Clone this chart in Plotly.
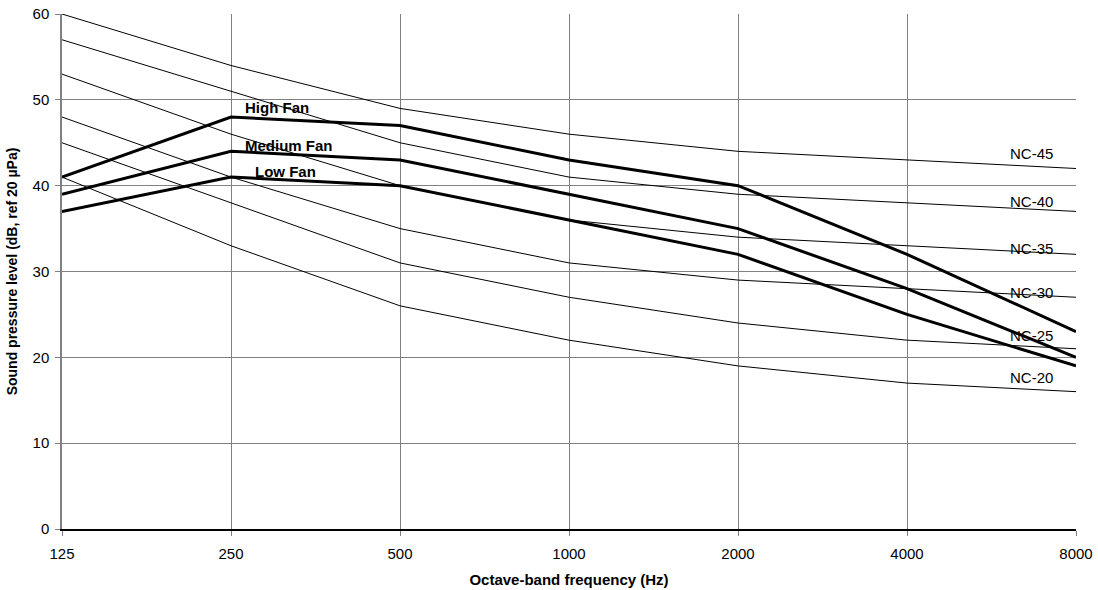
import plotly.graph_objects as go

frequencies = ["125", "250", "500", "1000", "2000", "4000", "8000"]

nc_names = ["NC-45", "NC-40", "NC-35", "NC-30", "NC-25", "NC-20"]
nc45 = [60, 54, 49, 46, 44, 43, 42]
nc40 = [57, 51, 45, 41, 39, 38, 37]
nc35 = [53, 46, 40, 36, 34, 33, 32]
nc30 = [48, 41, 35, 31, 29, 28, 27]
nc25 = [45, 38, 31, 27, 24, 22, 21]
nc20 = [41, 33, 26, 22, 19, 17, 16]
nc_curves = [nc45, nc40, nc35, nc30, nc25, nc20]

fan_names = ["High Fan", "Medium Fan", "Low Fan"]
high_fan = [41, 48, 47, 43, 40, 32, 23]
medium_fan = [39, 44, 43, 39, 35, 28, 20]
low_fan = [37, 41, 40, 36, 32, 25, 19]
fan_curves = [high_fan, medium_fan, low_fan]

xi = list(range(len(frequencies)))

fig = go.Figure()
for name, vals in zip(nc_names, nc_curves):
    fig.add_trace(go.Scatter(x=xi, y=vals, mode="lines", name=name,
                             line=dict(color="black", width=1), showlegend=False))
for name, vals in zip(fan_names, fan_curves):
    fig.add_trace(go.Scatter(x=xi, y=vals, mode="lines", name=name,
                             line=dict(color="black", width=3), showlegend=False))

font_family = "Liberation Sans, Arial, sans-serif"
annotations = []
# Fan labels (x in category units, y in dB)
fan_label_pos = [(1.07, 49.1), (1.07, 44.7), (1.13, 41.6)]
for name, (lx, ly) in zip(fan_names, fan_label_pos):
    annotations.append(dict(x=lx, y=ly, text=f"<b>{name}</b>", showarrow=False,
                            xanchor="left", yanchor="middle",
                            font=dict(size=15, color="black", family=font_family)))
nc_label_y = [43.8, 38.2, 32.7, 27.6, 22.6, 17.6]
for name, ly in zip(nc_names, nc_label_y):
    annotations.append(dict(x=5.6, y=ly, text=name, showarrow=False,
                            xanchor="left", yanchor="middle",
                            font=dict(size=15, color="black", family=font_family)))

fig.update_layout(
    width=1098, height=590,
    margin=dict(l=62, r=22, t=14, b=61, pad=0),
    paper_bgcolor="white", plot_bgcolor="white",
    font=dict(family=font_family, size=15, color="black"),
    annotations=annotations,
    xaxis=dict(
        range=[0, 6], tickmode="array", tickvals=xi, ticktext=frequencies,
        showgrid=True, gridcolor="#808080", gridwidth=1,
        showline=True, linecolor="black", linewidth=1.5, mirror=False,
        ticks="outside", ticklen=5, tickcolor="#808080",
        ticklabelstandoff=5, automargin=False,
        tickfont=dict(size=15),
        zeroline=False,
        title=dict(text="<b>Octave-band frequency (Hz)</b>", font=dict(size=15), standoff=14),
    ),
    yaxis=dict(
        range=[0, 60], tickmode="linear", tick0=0, dtick=10,
        showgrid=True, gridcolor="#808080", gridwidth=1,
        showline=True, linecolor="#808080", linewidth=1.5,
        ticks="outside", ticklen=5, tickcolor="#808080",
        ticklabelstandoff=3, automargin=False,
        tickfont=dict(size=15),
        zeroline=False,
        title=dict(text="<b>Sound pressure level (dB, ref 20 µPa)</b>", font=dict(size=14), standoff=12),
    ),
)

fig.write_html("out.html", config={"displayModeBar": False},
               post_script="document.body.style.margin='0';document.body.style.overflow='hidden';")
